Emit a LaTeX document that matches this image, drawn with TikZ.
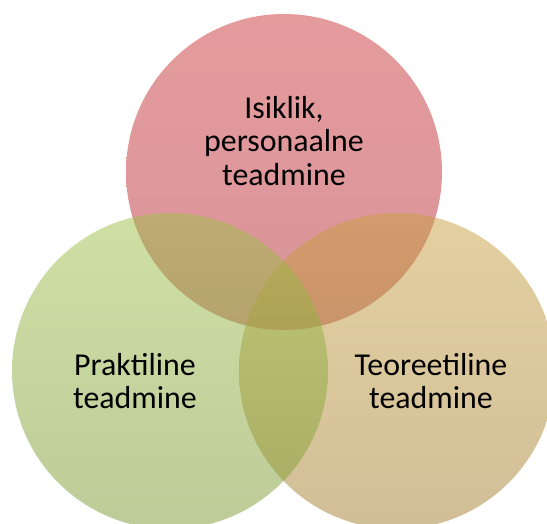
\documentclass[tikz,border=0pt]{standalone}
\usepackage{fontspec}
\setmainfont{Carlito}
\definecolor{isikTop}{RGB}{203,55,57}
\definecolor{isikBot}{RGB}{178,42,52}
\definecolor{teorTop}{RGB}{201,161,66}
\definecolor{teorBot}{RGB}{163,126,48}
\definecolor{prakTop}{RGB}{159,193,75}
\definecolor{prakBot}{RGB}{124,152,50}

\begin{document}
\begin{tikzpicture}[x=1bp, y=-1bp,
  ring/.style={circle, minimum size=316bp, inner sep=0pt, fill opacity=0.5},
  lbl/.style={align=center, font=\fontsize{32}{34}\selectfont}]
\useasboundingbox (0,0) rectangle (547,524);
\clip (0,0) rectangle (547,524);
\node[ring, top color=isikTop, bottom color=isikBot] (isik) at (284,172) {};
\node[ring, top color=teorTop, bottom color=teorBot] (teor) at (397,371) {};
\node[ring, top color=prakTop, bottom color=prakBot] (prak) at (170,371) {};
\node[lbl] (isikTxt) at (284,141) {Isiklik,\\ personaalne\\ teadmine};
\node[lbl] (prakTxt) at (135,381) {Praktiline\\ teadmine};
\node[lbl] (teorTxt) at (431,381) {Teoreetiline\\ teadmine};
\end{tikzpicture}
\end{document}
